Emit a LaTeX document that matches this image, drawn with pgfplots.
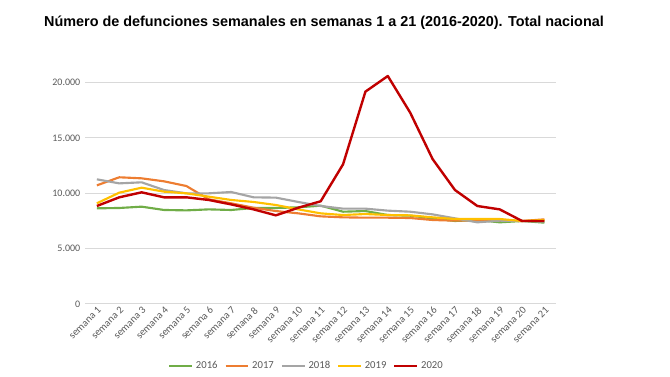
\documentclass[border=0pt]{standalone}
\usepackage{pgfplots}
\pgfplotsset{compat=1.18}
\usepackage{fontspec}
\setmainfont{Carlito}
\newfontfamily\titlefont{Liberation Sans}
\definecolor{c16}{HTML}{70AD47}
\definecolor{c17}{HTML}{ED7D31}
\definecolor{c18}{HTML}{A5A5A5}
\definecolor{c19}{HTML}{FFC000}
\definecolor{c20}{HTML}{C00000}
\definecolor{gridc}{HTML}{D9D9D9}
\definecolor{txt}{HTML}{595959}
\begin{document}
\begin{tikzpicture}
\path[use as bounding box] (0,0) rectangle (502.5pt,282.75pt);
\node[font=\titlefont\bfseries\fontsize{10.8pt}{12pt}\selectfont] at (243pt,266pt) {Número de defunciones semanales en semanas 1 a 21 (2016-2020). Total nacional};
\begin{axis}[
  at={(63.75pt,54.75pt)}, anchor=origin,
  scale only axis, width=353pt, height=166pt,
  xmin=0.47, xmax=21.5, ymin=0, ymax=20000,
  clip=false,
  axis line style={draw=none},
  major tick style={draw=none},
  xmajorgrids=false, ymajorgrids=true,
  y grid style={color=gridc, line width=0.75pt},
  ytick={0,5000,10000,15000,20000},
  scaled y ticks=false,
  /pgf/number format/.cd, 1000 sep={.}, assume math mode=true, /pgfplots/.cd,
  yticklabel style={font=\fontsize{7.5pt}{9pt}\selectfont, text=txt},
  xtick={1,...,21},
  xticklabels={semana 1,semana 2,semana 3,semana 4,semana 5,semana 6,semana 7,semana 8,semana 9,semana 10,semana 11,semana 12,semana 13,semana 14,semana 15,semana 16,semana 17,semana 18,semana 19,semana 20,semana 21},
  xticklabel style={font=\fontsize{7.8pt}{9pt}\selectfont, text=txt, rotate=45, anchor=north east, inner sep=1pt},
  legend columns=5,
  legend style={at={(0.471,-0.28)}, anchor=center, draw=none, fill=none,
    font=\fontsize{8pt}{9.6pt}\selectfont, text=txt,
    /tikz/every even column/.append style={column sep=3pt}},
  legend image code/.code={\draw[#1, line width=2pt] (0pt,0pt) -- (17pt,0pt);},
  every axis plot/.append style={line width=1.6pt, line join=round, mark=none},
]
\addplot[c16] coordinates {(1,8645)(2,8675)(3,8795)(4,8495)(5,8460)(6,8550)(7,8495)(8,8675)(9,8675)(10,8735)(11,8885)(12,8340)(13,8400)(14,8040)(15,7980)(16,7740)(17,7500)(18,7590)(19,7380)(20,7500)(21,7350)};
\addlegendentry{2016}
\addplot[c17] coordinates {(1,10720)(2,11450)(3,11355)(4,11085)(5,10660)(6,9460)(7,9100)(8,8700)(9,8400)(10,8190)(11,7920)(12,7830)(13,7800)(14,7800)(15,7770)(16,7590)(17,7530)(18,7530)(19,7530)(20,7500)(21,7650)};
\addlegendentry{2017}
\addplot[c18] coordinates {(1,11265)(2,10900)(3,10995)(4,10300)(5,10000)(6,10000)(7,10120)(8,9640)(9,9610)(10,9220)(11,8855)(12,8615)(13,8615)(14,8435)(15,8340)(16,8100)(17,7740)(18,7380)(19,7530)(20,7500)(21,7440)};
\addlegendentry{2018}
\addplot[c19] coordinates {(1,9100)(2,10060)(3,10510)(4,10150)(5,10000)(6,9700)(7,9400)(8,9220)(9,8945)(10,8550)(11,8190)(12,8040)(13,8130)(14,8040)(15,8010)(16,7830)(17,7680)(18,7680)(19,7680)(20,7500)(21,7590)};
\addlegendentry{2019}
\addplot[c20, line width=1.8pt] coordinates {(1,8855)(2,9640)(3,10090)(4,9640)(5,9640)(6,9400)(7,9000)(8,8550)(9,8010)(10,8700)(11,9280)(12,12620)(13,19190)(14,20600)(15,17290)(16,13100)(17,10300)(18,8855)(19,8550)(20,7500)(21,7500)};
\addlegendentry{2020}
\end{axis}
\end{tikzpicture}
\end{document}
